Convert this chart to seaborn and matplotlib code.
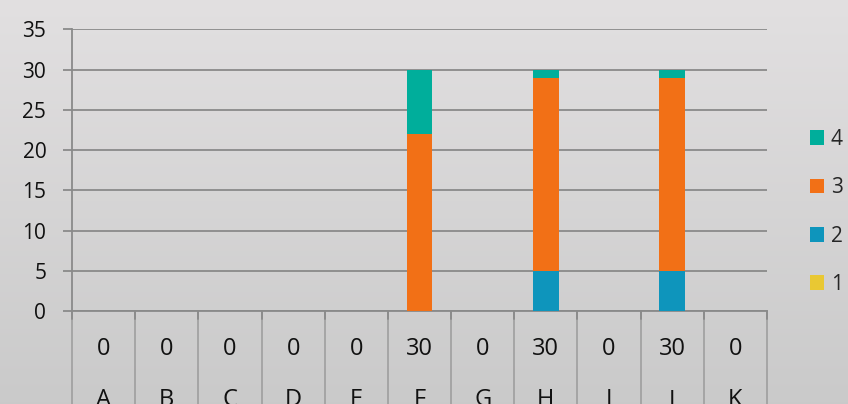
import numpy as np
import pandas as pd
import matplotlib
matplotlib.use("Agg")
import matplotlib.pyplot as plt
import matplotlib.transforms as mtransforms
from matplotlib.patches import Patch
import seaborn as sns

# ---- data ----
categories = ["A", "B", "C", "D", "E", "F", "G", "H", "I", "J", "K"]
series_names = ["1", "2", "3", "4"]
s1 = [0, 0, 0, 0, 0, 0, 0, 0, 0, 0, 0]
s2 = [0, 0, 0, 0, 0, 0, 0, 5, 0, 5, 0]
s3 = [0, 0, 0, 0, 0, 22, 0, 24, 0, 24, 0]
s4 = [0, 0, 0, 0, 0, 8, 0, 1, 0, 1, 0]
totals = [0, 0, 0, 0, 0, 30, 0, 30, 0, 30, 0]
y_ticks = [0, 5, 10, 15, 20, 25, 30, 35]
series_colors = ["#E9C833", "#0E95BC", "#F27016", "#00AE9B"]

sns.set_style("white")
plt.rcParams["font.family"] = ["Open Sans", "DejaVu Sans"]

W, H = 848, 404
fig = plt.figure(figsize=(W / 100, H / 100), dpi=100)

# gradient background
bg = fig.add_axes([0, 0, 1, 1], zorder=-10)
top = np.array([0.886, 0.878, 0.882])
bot = np.array([0.792, 0.792, 0.792])
t = np.linspace(0, 1, 256)[:, None]
grad = top[None, :] * (1 - t) + bot[None, :] * t
bg.imshow(grad[:, None, :], aspect="auto", extent=[0, 1, 0, 1])
bg.axis("off")

x0, x1, y_top, y_bot = 72, 767, 29.3, 311
ax = fig.add_axes([x0 / W, 1 - y_bot / H, (x1 - x0) / W, (y_bot - y_top) / H])
ax.set_facecolor("none")

df = pd.DataFrame({"cat": categories, "1": s1, "2": s2, "3": s3, "4": s4})
cum = df[series_names].cumsum(axis=1)
for name, col in reversed(list(zip(series_names, series_colors))):
    sns.barplot(x=df["cat"], y=cum[name], color=col, saturation=1,
                width=0.405, ax=ax, zorder=3, edgecolor="none")

ax.set_xlim(-0.5, len(categories) - 0.5)
ax.set_ylim(0, 35)
ax.set_yticks(y_ticks)
ax.set_xticks([])
ax.set_xlabel("")
ax.set_ylabel("")
grid_c = "#8A8A8A"
ax.yaxis.grid(True, color=grid_c, lw=1.3)
ax.set_axisbelow(True)
for s in ["top", "right"]:
    ax.spines[s].set_visible(False)
for s in ["left", "bottom"]:
    ax.spines[s].set_color(grid_c)
    ax.spines[s].set_linewidth(1.3)
ax.tick_params(axis="y", length=6.5, width=1.3, color=grid_c, labelsize=15,
               pad=12, labelcolor="#111111", left=True)

# table below the axis
trans = mtransforms.blended_transform_factory(ax.transData, ax.transAxes)
axh = y_bot - y_top
for b in np.arange(-0.5, len(categories), 1.0):
    ax.plot([b, b], [0, -(H + 5 - y_bot) / axh], transform=trans, color="#A2A2A2",
            lw=1.3, clip_on=False, zorder=2)
    ax.plot([b, b], [0, -8 / axh], transform=trans, color=grid_c,
            lw=1.3, clip_on=False, zorder=2)
for i, (c, v) in enumerate(zip(categories, totals)):
    ax.text(i, -(355 - y_bot) / axh, str(v), transform=trans, ha="center",
            va="baseline", fontsize=17, color="#111111")
    ax.text(i, -(406 - y_bot) / axh, c, transform=trans, ha="center",
            va="baseline", fontsize=17, color="#111111")

handles = [Patch(facecolor=c, edgecolor="none") for c in series_colors]
leg = fig.legend(handles[::-1], series_names[::-1], loc="center left",
                 bbox_to_anchor=(791 / W, 1 - 212 / H), frameon=False,
                 fontsize=15, handlelength=0.7, handleheight=0.7,
                 handletextpad=0.3, labelspacing=1.31)

fig.savefig("out.png", dpi=100)
